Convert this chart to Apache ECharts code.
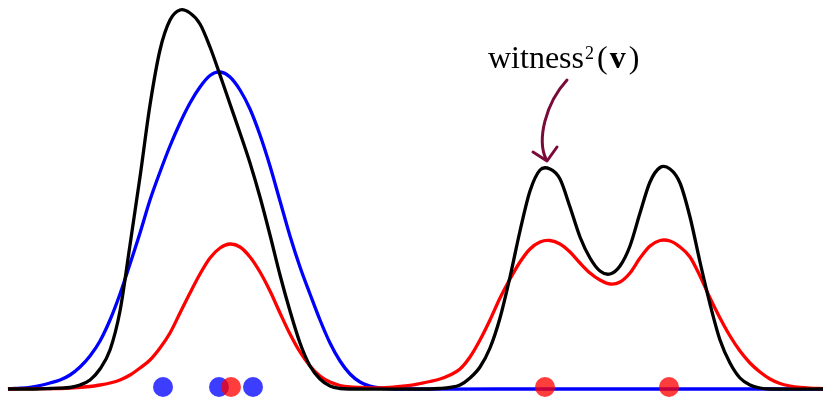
<!DOCTYPE html>
<html>
<head>
<meta charset="utf-8">
<style>
  html, body { margin: 0; padding: 0; background: #fff; }
  #chart { width: 823px; height: 398px; }
</style>
<script src="https://cdn.jsdelivr.net/npm/echarts@6/dist/echarts.min.js"></script>
</head>
<body>
<div id="chart"></div>
<script>
// Sample positions of the two point sets
const bluePoints = [1.63, 2.19, 2.53];
const redPoints = [2.31, 5.45, 6.69];

// Density estimate of the blue sample
const blueX = [0.08, 0.1, 0.2, 0.3, 0.4, 0.5, 0.6, 0.7, 0.8, 0.9, 1.0, 1.1, 1.2, 1.3, 1.4, 1.5, 1.6, 1.7, 1.8, 1.9,
  2.0, 2.1, 2.2, 2.3, 2.4, 2.5, 2.6, 2.7, 2.8, 2.9, 3.0, 3.1, 3.2, 3.3, 3.4, 3.5, 3.6, 3.7, 3.8, 3.9,
  4.0, 5.0, 6.0, 7.0, 8.23];
const blueY = [0, 0.003, 0.008, 0.017, 0.035, 0.06, 0.09, 0.14, 0.22, 0.33, 0.48, 0.69, 0.95, 1.25, 1.56, 1.89, 2.17, 2.43, 2.66, 2.86,
  3.02, 3.135, 3.17, 3.12, 2.99, 2.80, 2.54, 2.23, 1.88, 1.53, 1.22, 0.95, 0.69, 0.46, 0.28, 0.15, 0.07, 0.03, 0.01, 0.002,
  0, 0, 0, 0, 0];

// Density estimate of the red sample
const redX = [0.08, 0.5, 0.7, 0.9, 1.0, 1.1, 1.2, 1.3, 1.4, 1.5, 1.6, 1.7, 1.8, 1.9, 2.0, 2.1, 2.2, 2.3, 2.4, 2.5,
  2.6, 2.7, 2.8, 2.9, 3.0, 3.1, 3.2, 3.3, 3.4, 3.5, 3.6, 3.7, 3.8, 3.9, 4.0, 4.1, 4.2, 4.3, 4.4, 4.5,
  4.6, 4.7, 4.8, 4.9, 5.0, 5.1, 5.2, 5.3, 5.4, 5.5, 5.6, 5.7, 5.8, 5.9, 6.0, 6.1, 6.2, 6.3, 6.4, 6.5,
  6.6, 6.7, 6.8, 6.9, 7.0, 7.1, 7.2, 7.3, 7.4, 7.5, 7.6, 7.7, 7.8, 7.9, 8.0, 8.1, 8.23];
const redY = [0, 0.003, 0.01, 0.025, 0.04, 0.06, 0.09, 0.14, 0.21, 0.29, 0.41, 0.56, 0.76, 0.96, 1.15, 1.31, 1.41, 1.45, 1.42, 1.32,
  1.17, 0.98, 0.76, 0.55, 0.37, 0.23, 0.13, 0.07, 0.035, 0.02, 0.015, 0.012, 0.012, 0.017, 0.025, 0.037, 0.055, 0.075, 0.10, 0.14,
  0.20, 0.32, 0.49, 0.69, 0.91, 1.10, 1.27, 1.40, 1.47, 1.485, 1.45, 1.37, 1.26, 1.16, 1.09, 1.05, 1.07, 1.16, 1.31, 1.43,
  1.485, 1.48, 1.42, 1.32, 1.13, 0.91, 0.71, 0.53, 0.38, 0.26, 0.17, 0.10, 0.055, 0.03, 0.015, 0.008, 0.004];

// Squared witness function
const witnessX = [0.08, 0.2, 0.3, 0.4, 0.5, 0.6, 0.7, 0.8, 0.9, 1.0, 1.1, 1.2, 1.3, 1.4, 1.5, 1.6, 1.7, 1.8, 1.9, 2.0,
  2.1, 2.2, 2.3, 2.4, 2.5, 2.6, 2.7, 2.8, 2.9, 3.0, 3.1, 3.2, 3.3, 3.4, 3.5, 4.3, 4.4, 4.5, 4.6, 4.7,
  4.8, 4.9, 5.0, 5.1, 5.2, 5.3, 5.4, 5.5, 5.6, 5.7, 5.8, 5.9, 6.0, 6.1, 6.2, 6.3, 6.4, 6.5, 6.6, 6.7,
  6.8, 6.9, 7.0, 7.1, 7.2, 7.3, 7.4, 7.5, 7.6, 7.7, 8.23];
const witnessY = [0, 0, 0, 0.002, 0.005, 0.008, 0.015, 0.04, 0.09, 0.20, 0.39, 0.78, 1.44, 2.12, 2.84, 3.39, 3.69, 3.79, 3.76, 3.65,
  3.42, 3.14, 2.85, 2.56, 2.26, 1.92, 1.54, 1.14, 0.78, 0.46, 0.23, 0.10, 0.03, 0.005, 0, 0, 0.005, 0.015, 0.04, 0.11,
  0.22, 0.41, 0.71, 1.12, 1.58, 1.98, 2.19, 2.20, 2.10, 1.82, 1.52, 1.31, 1.18, 1.15, 1.23, 1.43, 1.76, 2.07, 2.215, 2.20,
  2.06, 1.72, 1.27, 0.85, 0.49, 0.26, 0.11, 0.04, 0.01, 0, 0];

const chart = echarts.init(document.getElementById('chart'), null, { renderer: 'canvas' });

// Smooth curve through the samples: cubic Hermite segments whose tangents
// come from neighbouring samples, built in pixel space from api.coord.
function curvePath(pts) {
  const n = pts.length;
  const slope = i => {
    const a = pts[Math.max(i - 1, 0)];
    const b = pts[Math.min(i + 1, n - 1)];
    return (b[1] - a[1]) / (b[0] - a[0]);
  };
  let d = 'M' + pts[0][0] + ',' + pts[0][1];
  for (let i = 0; i < n - 1; i++) {
    const p = pts[i], q = pts[i + 1];
    const h = (q[0] - p[0]) / 3;
    const m0 = slope(i), m1 = slope(i + 1);
    d += 'C' + (p[0] + h) + ',' + (p[1] + m0 * h) + ' ' +
         (q[0] - h) + ',' + (q[1] - m1 * h) + ' ' + q[0] + ',' + q[1];
  }
  return d;
}

const curveSeries = (xs, ys, color) => ({
  type: 'custom',
  coordinateSystem: 'cartesian2d',
  data: xs.map((x, i) => [x, ys[i]]),
  clip: false,
  silent: true,
  renderItem: (params, api) => {
    if (params.dataIndex !== 0) return null;
    const pts = xs.map((x, i) => api.coord([x, ys[i]]));
    return {
      type: 'path',
      shape: { pathData: curvePath(pts) },
      style: { stroke: color, lineWidth: 3.3, fill: null, lineJoin: 'round' }
    };
  }
});

const pointSeries = (xs, color) => ({
  type: 'scatter',
  data: xs.map(x => [x, 0]),
  symbolSize: 20,
  symbolOffset: [0, -2],
  clip: false,
  silent: true,
  itemStyle: { color: color, opacity: 0.76 },
  emphasis: { disabled: true }
});

const serif = 'Liberation Serif';

chart.setOption({
  animation: false,
  backgroundColor: '#ffffff',
  grid: { left: 0, right: 0, top: 0, bottom: 9 },
  xAxis: { type: 'value', min: 0, max: 8.23, show: false },
  yAxis: { type: 'value', min: 0, max: 3.89, show: false },
  series: [
    curveSeries(blueX, blueY, '#0000ff'),
    curveSeries(redX, redY, '#ff0000'),
    curveSeries(witnessX, witnessY, '#000000'),
    pointSeries(bluePoints, '#0000ff'),
    pointSeries(redPoints, '#ff0000')
  ],
  graphic: [
    {
      type: 'text',
      left: 488,
      top: 36,
      style: {
        text: '{n|witness}{s|2}{n|(}{b|v}{n|)}',
        rich: {
          n: { fontFamily: serif, fontSize: 32, color: '#000', lineHeight: 40, verticalAlign: 'bottom' },
          s: { fontFamily: serif, fontSize: 18, color: '#000', lineHeight: 40, verticalAlign: 'top', padding: [9, 3, 0, 1] },
          b: { fontFamily: serif, fontSize: 32, fontWeight: 'bold', color: '#000', lineHeight: 40, verticalAlign: 'bottom', padding: [0, 3, 0, 2] }
        }
      }
    },
    {
      type: 'bezierCurve',
      shape: { x1: 567, y1: 80, cpx1: 545, cpy1: 104, cpx2: 537, cpy2: 140, x2: 546, y2: 159 },
      style: { stroke: '#7a0a3a', lineWidth: 3, fill: null, lineCap: 'round' }
    },
    {
      type: 'polyline',
      shape: { points: [[533, 152], [547, 161], [557, 147]] },
      style: { stroke: '#7a0a3a', lineWidth: 3, fill: null, lineCap: 'round', lineJoin: 'round' }
    }
  ]
});
</script>
</body>
</html>
